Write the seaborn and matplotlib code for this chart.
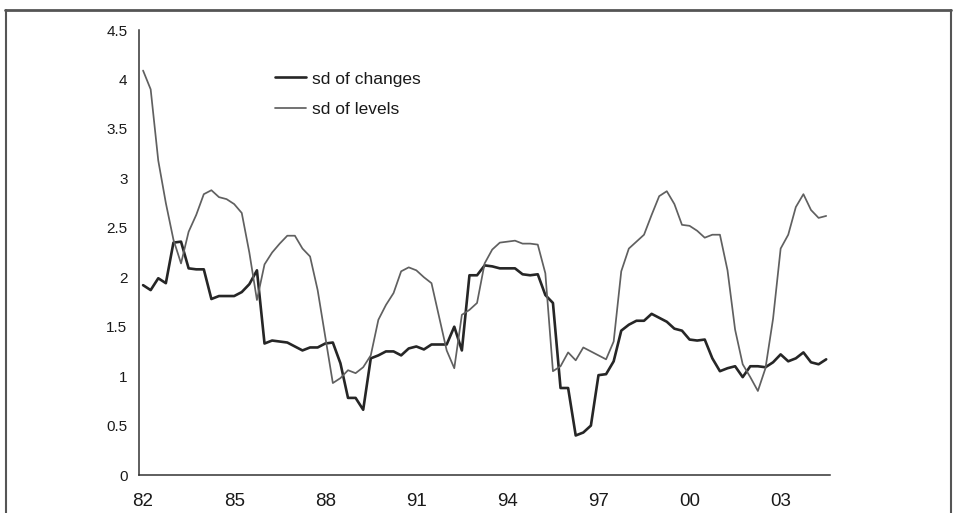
import numpy as np
import pandas as pd
import seaborn as sns
from matplotlib import pyplot as plt

# quarterly observations, 1982Q1 .. 2004Q3
sd_changes = [
    1.92, 1.87, 1.99, 1.94, 2.35, 2.36, 2.09, 2.08, 2.08, 1.78,
    1.81, 1.81, 1.81, 1.85, 1.93, 2.07, 1.33, 1.36, 1.35, 1.34,
    1.30, 1.26, 1.29, 1.29, 1.33, 1.34, 1.13, 0.78, 0.78, 0.66,
    1.18, 1.21, 1.25, 1.25, 1.21, 1.28, 1.30, 1.27, 1.32, 1.32,
    1.32, 1.50, 1.26, 2.02, 2.02, 2.12, 2.11, 2.09, 2.09, 2.09,
    2.03, 2.02, 2.03, 1.82, 1.74, 0.88, 0.88, 0.40, 0.43, 0.50,
    1.01, 1.02, 1.15, 1.46, 1.52, 1.56, 1.56, 1.63, 1.59, 1.55,
    1.48, 1.46, 1.37, 1.36, 1.37, 1.18, 1.05, 1.08, 1.10, 0.99,
    1.10, 1.10, 1.09, 1.14, 1.22, 1.15, 1.18, 1.24, 1.14, 1.12,
    1.17,
]
sd_levels = [
    4.09, 3.90, 3.18, 2.75, 2.38, 2.14, 2.46, 2.63, 2.84, 2.88,
    2.81, 2.79, 2.74, 2.65, 2.25, 1.77, 2.13, 2.25, 2.34, 2.42,
    2.42, 2.29, 2.21, 1.87, 1.40, 0.93, 0.98, 1.06, 1.03, 1.09,
    1.21, 1.57, 1.72, 1.84, 2.06, 2.10, 2.07, 2.00, 1.94, 1.60,
    1.26, 1.08, 1.62, 1.67, 1.74, 2.14, 2.28, 2.35, 2.36, 2.37,
    2.34, 2.34, 2.33, 2.04, 1.05, 1.10, 1.24, 1.16, 1.29, 1.25,
    1.21, 1.17, 1.35, 2.06, 2.29, 2.36, 2.43, 2.63, 2.82, 2.87,
    2.74, 2.53, 2.52, 2.47, 2.40, 2.43, 2.43, 2.07, 1.47, 1.12,
    0.99, 0.85, 1.08, 1.58, 2.29, 2.43, 2.71, 2.84, 2.68, 2.60,
    2.62,
]
year_labels = ["82", "85", "88", "91", "94", "97", "00", "03"]

n = len(sd_changes)
df = pd.DataFrame({
    "q": np.concatenate([np.arange(n), np.arange(n)]),
    "value": sd_changes + sd_levels,
    "series": ["sd of changes"] * n + ["sd of levels"] * n,
})

sns.set_style("white")
plt.rcParams["font.family"] = ["Liberation Sans", "DejaVu Sans"]

fig = plt.figure(figsize=(9.54, 5.13), dpi=100)
ax = fig.add_axes([0.146, 0.074, 0.724, 0.8675])

sns.lineplot(
    data=df,
    x="q",
    y="value",
    hue="series",
    size="series",
    palette={"sd of changes": "#262626", "sd of levels": "#606060"},
    sizes={"sd of changes": 1.9, "sd of levels": 1.25},
    ax=ax,
)

ax.set_xlim(-0.5, n - 0.5)
ax.set_ylim(0, 4.5)
ax.set(xlabel="", ylabel="")

ax.set_xticks(np.arange(0, n, 12))
ax.set_xticklabels(year_labels, fontsize=13.5)
ax.set_xticks(np.arange(-0.5, n, 1), minor=True)
ax.tick_params(axis="x", which="major", length=0, pad=13, colors="#1a1a1a")
ax.tick_params(axis="x", which="minor", length=3.5, width=0.9,
               direction="out", color="#333333")

yt = np.arange(0, 4.51, 0.5)
ax.set_yticks(yt)
ax.set_yticklabels([f"{v:g}" for v in yt], fontsize=11)
ax.tick_params(axis="y", length=3.5, width=0.9, direction="out",
               color="#333333", labelcolor="#1a1a1a", pad=5)

for s in ["top", "right"]:
    ax.spines[s].set_visible(False)
for s in ["left", "bottom"]:
    ax.spines[s].set_color("#333333")
    ax.spines[s].set_linewidth(1.1)

leg = ax.legend(
    loc="upper left",
    bbox_to_anchor=(0.196, 0.907),
    frameon=False,
    fontsize=12.5,
    handlelength=1.8,
    handletextpad=0.35,
    labelspacing=0.9,
    borderpad=0,
    borderaxespad=0,
)
for t in leg.get_texts():
    t.set_color("#1a1a1a")

# outer chart frame
fig.add_artist(plt.Line2D([0.005, 0.997], [0.981, 0.981], color="#555555",
                          lw=2, transform=fig.transFigure))
fig.add_artist(plt.Line2D([0.006, 0.006], [0.0, 0.981], color="#555555",
                          lw=1.5, transform=fig.transFigure))
fig.add_artist(plt.Line2D([0.997, 0.997], [0.0, 0.981], color="#555555",
                          lw=1.5, transform=fig.transFigure))

plt.savefig("out.png", dpi=100)
